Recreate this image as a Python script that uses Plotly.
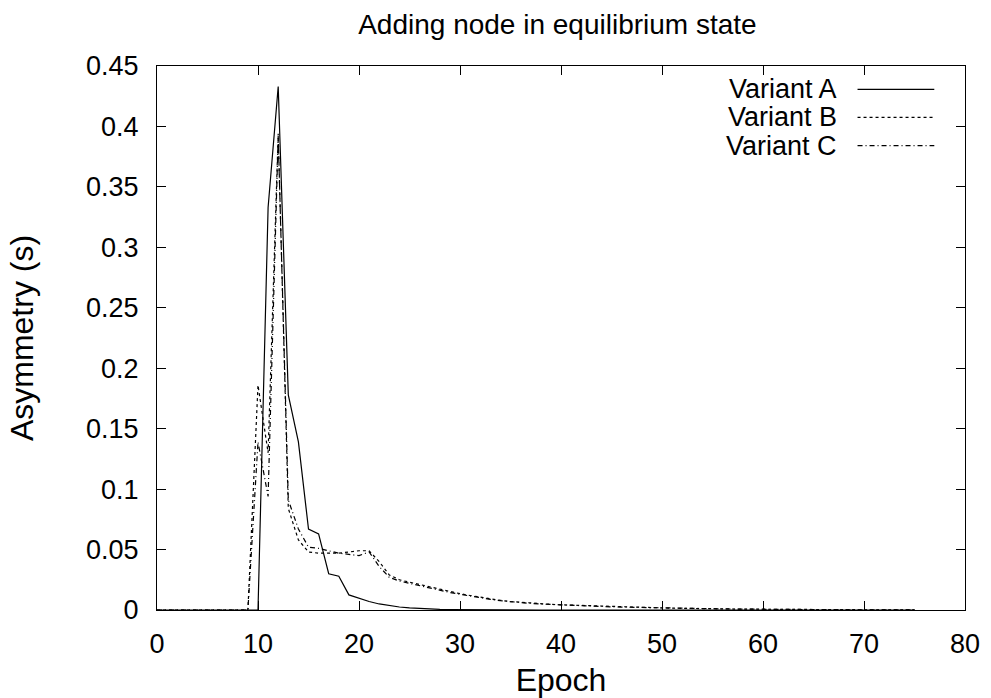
import plotly.graph_objects as go

# epochs 0..75
epochs = list(range(0, 76))

variant_a = [0, 0, 0, 0, 0, 0, 0, 0, 0, 0,
             0, 0.333, 0.433, 0.178, 0.139, 0.067, 0.063, 0.030, 0.028, 0.0125,
             0.0095, 0.007, 0.005, 0.0035, 0.0025, 0.0018, 0.0012, 0.0008, 0.0005, 0.0003,
             0.0002, 0.0001, 0.0001, 0.00005, 0.00005, 0, 0, 0, 0, 0,
             0, 0, 0, 0, 0, 0, 0, 0, 0, 0,
             0, 0, 0, 0, 0, 0, 0, 0, 0, 0,
             0, 0, 0, 0, 0, 0, 0, 0, 0, 0,
             0, 0, 0, 0, 0, 0]

variant_b = [0, 0, 0, 0, 0, 0, 0, 0, 0, 0,
             0.186, 0.13, 0.394, 0.084, 0.058, 0.048, 0.047, 0.047, 0.047, 0.048,
             0.049, 0.049, 0.040, 0.029, 0.025, 0.023, 0.021, 0.019, 0.017, 0.015,
             0.0135, 0.012, 0.0105, 0.0092, 0.008, 0.007, 0.0063, 0.0057, 0.0052, 0.0047,
             0.0043, 0.004, 0.0037, 0.0034, 0.0031, 0.0028, 0.0025, 0.0023, 0.0021, 0.0019,
             0.0017, 0.0015, 0.0014, 0.0012, 0.0011, 0.001, 0.0009, 0.0008, 0.0007, 0.0007,
             0.0006, 0.0005, 0.0005, 0.0004, 0.0004, 0.0003, 0.0003, 0.0003, 0.0002, 0.0002,
             0.0002, 0.0002, 0.0001, 0.0001, 0.0001, 0.0001]

variant_c = [0, 0, 0, 0, 0, 0, 0, 0, 0, 0,
             0.139, 0.094, 0.392, 0.091, 0.067, 0.052, 0.051, 0.049, 0.047, 0.046,
             0.045, 0.048, 0.036, 0.027, 0.024, 0.022, 0.020, 0.018, 0.016, 0.0145,
             0.013, 0.0115, 0.010, 0.0088, 0.0077, 0.0068, 0.006, 0.0054, 0.0049, 0.0045,
             0.0041, 0.0038, 0.0035, 0.0032, 0.0029, 0.0026, 0.0024, 0.0022, 0.002, 0.0018,
             0.0016, 0.0015, 0.0013, 0.0012, 0.0011, 0.001, 0.0009, 0.0008, 0.0007, 0.0006,
             0.0006, 0.0005, 0.0005, 0.0004, 0.0004, 0.0003, 0.0003, 0.0003, 0.0002, 0.0002,
             0.0002, 0.0001, 0.0001, 0.0001, 0.0001, 0.0001]

series_names = ["Variant A", "Variant B", "Variant C"]
x_ticks = [0, 10, 20, 30, 40, 50, 60, 70, 80]
y_ticks = [0, 0.05, 0.1, 0.15, 0.2, 0.25, 0.3, 0.35, 0.4, 0.45]
y_tick_labels = ["0", "0.05", "0.1", "0.15", "0.2", "0.25", "0.3", "0.35", "0.4", "0.45"]

FONT = "Liberation Sans, Arial, sans-serif"
dashes = ["solid", "dot", "5px,3px,1px,3px"]

fig = go.Figure()
for name, ys, dash in zip(series_names, [variant_a, variant_b, variant_c], dashes):
    fig.add_trace(go.Scatter(x=epochs, y=ys, mode="lines", name=name,
                             line=dict(color="black", width=1.2, dash=dash),
                             showlegend=False))

# gnuplot style legend: text on the left, line sample on the right
legend_rows = [0.957, 0.9057, 0.8535]
for name, dash, yy in zip(series_names, dashes, legend_rows):
    fig.add_annotation(x=0.8444, y=yy, xref="paper", yref="paper", text=name,
                       showarrow=False, xanchor="right", yanchor="middle",
                       font=dict(family=FONT, size=27, color="black"))
    fig.add_shape(type="line", xref="paper", yref="paper", x0=0.867, x1=0.962,
                  y0=yy, y1=yy, line=dict(color="black", width=1.2, dash=dash))

fig.update_layout(
    width=991, height=698,
    margin=dict(l=157, r=26, t=66, b=88),
    paper_bgcolor="white", plot_bgcolor="white",
    font=dict(family=FONT, size=27, color="black"),
    title=dict(text="Adding node in equilibrium state", x=0.5625, xanchor="center",
               y=0.966, yanchor="middle", font=dict(size=28)),
    xaxis=dict(range=[0, 80], tickvals=x_ticks, ticks="inside", ticklen=9,
               tickcolor="black", showline=True, linecolor="black", linewidth=1,
               mirror="allticks", showgrid=False, zeroline=False,
               ticklabelstandoff=10, automargin=False,
               title=dict(text="Epoch", standoff=10)),
    yaxis=dict(range=[0, 0.45], tickvals=y_ticks, ticktext=y_tick_labels,
               ticks="inside", ticklen=9, tickcolor="black", showline=True,
               linecolor="black", linewidth=1, mirror="allticks", showgrid=False,
               zeroline=False, ticklabelstandoff=12, automargin=False,
               title=dict(text="Asymmetry (s)", standoff=42)),
)

# drop the page margin so the 991x698 figure fills the window exactly
fig.write_html("out.html", config={"displayModeBar": False},
               post_script="document.body.style.margin='0';document.body.style.overflow='hidden';")
